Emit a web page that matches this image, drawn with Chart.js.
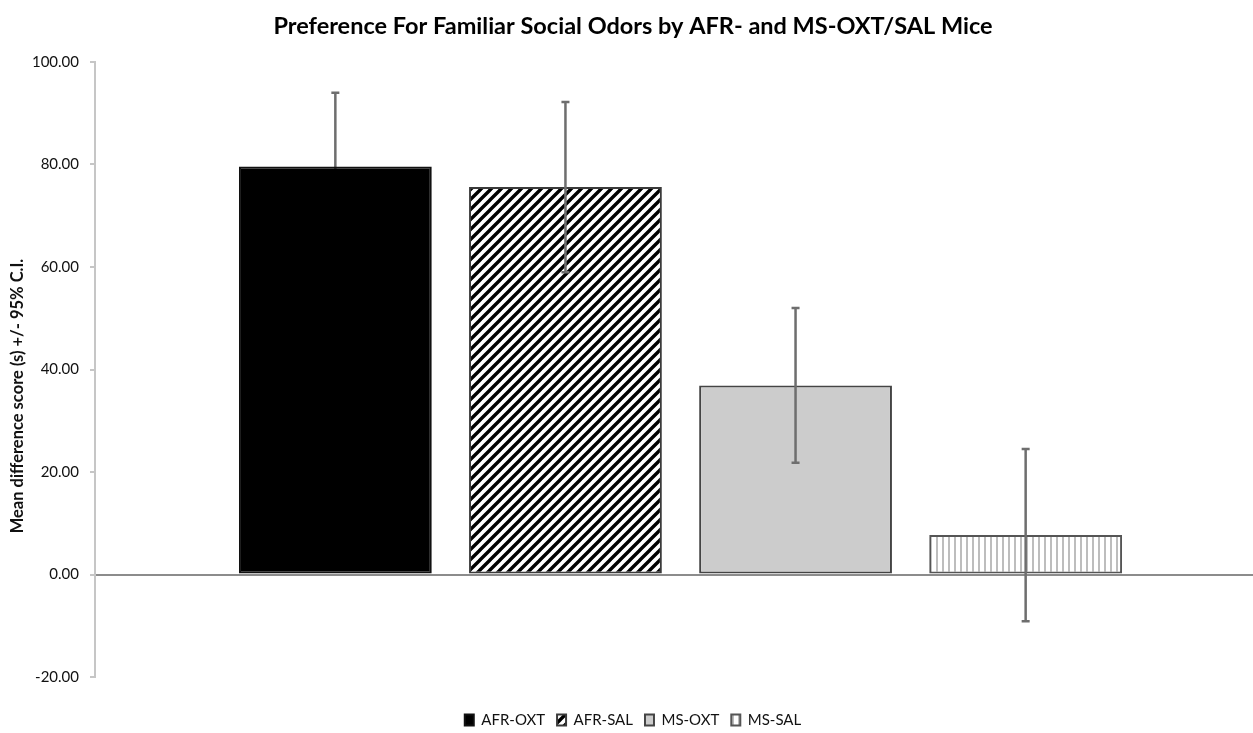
<!DOCTYPE html>
<html>
<head>
<meta charset="utf-8">
<title>Preference For Familiar Social Odors</title>
<script src="https://cdn.jsdelivr.net/npm/chart.js@4.4.1/dist/chart.umd.min.js"></script>
<style>
  html, body { margin: 0; padding: 0; background: #ffffff; overflow: hidden; }
  #wrap { width: 1253px; height: 733px; overflow: hidden; }
  canvas { display: block; }
</style>
</head>
<body>
<div id="wrap"><canvas id="chart" width="1266" height="733"></canvas></div>
<script>
// Mean difference scores (s) and 95% confidence half-widths per group
const categories = [''];
const groups = ['AFR-OXT', 'AFR-SAL', 'MS-OXT', 'MS-SAL'];
const means = [79.6, 75.6, 36.9, 7.7];
const ci95 = [14.4, 16.6, 15.1, 16.8];
const yTicks = [-20, 0, 20, 40, 60, 80, 100];

const FONT = 'Lato, "Noto Sans", sans-serif';

// Hatched fills
function diagonalHatch() {
  const s = 10;
  const c = document.createElement('canvas');
  c.width = s; c.height = s;
  const g = c.getContext('2d');
  g.fillStyle = '#ffffff';
  g.fillRect(0, 0, s, s);
  g.strokeStyle = '#000000';
  g.lineWidth = 3.4;
  g.beginPath();
  for (const k of [-s, 0, s]) {
    g.moveTo(k - 1, s + 1);
    g.lineTo(k + s + 1, -1);
  }
  g.stroke();
  return g.createPattern(c, 'repeat');
}

function verticalHatch() {
  const s = 6;
  const c = document.createElement('canvas');
  c.width = s; c.height = s;
  const g = c.getContext('2d');
  g.fillStyle = '#ffffff';
  g.fillRect(0, 0, s, s);
  g.fillStyle = '#bdbdbd';
  g.fillRect(0, 0, 2, s);
  return g.createPattern(c, 'repeat');
}

const ctx = document.getElementById('chart').getContext('2d');
const fills = ['#000000', diagonalHatch(), '#cccccc', verticalHatch()];
const borders = ['#111111', '#3a3a3a', '#444444', '#555555'];

// Error bars (mean +/- 95% C.I.); the solid black bar hides its own lower whisker
function drawErrorBars(chart, behind) {
  const c = chart.ctx;
  const y = chart.scales.y;
  chart.data.datasets.forEach((ds, i) => {
    if (!!ds.errorBarsBehind !== behind) return;
    const meta = chart.getDatasetMeta(i);
    if (meta.hidden) return;
    meta.data.forEach((bar, j) => {
      const m = ds.data[j];
      const e = ds.errorBars[j];
      const yTop = y.getPixelForValue(m + e);
      const yBot = y.getPixelForValue(m - e);
      const x = bar.x;
      c.save();
      c.strokeStyle = '#6e6e6e';
      c.lineWidth = 2.5;
      c.beginPath();
      c.moveTo(x, yTop);
      c.lineTo(x, yBot);
      c.moveTo(x - 4, yTop);
      c.lineTo(x + 4, yTop);
      c.moveTo(x - 4, yBot);
      c.lineTo(x + 4, yBot);
      c.stroke();
      c.restore();
    });
  });
}

const errorBarPlugin = {
  id: 'errorBars',
  beforeDatasetsDraw(chart) { drawErrorBars(chart, true); },
  afterDatasetsDraw(chart) { drawErrorBars(chart, false); }
};

// Rotated value-axis title
const axisTitlePlugin = {
  id: 'axisTitle',
  afterDraw(chart) {
    const c = chart.ctx;
    c.save();
    c.translate(18, 396);
    c.rotate(-Math.PI / 2);
    c.font = 'bold 16.5px ' + FONT;
    c.fillStyle = '#111111';
    c.textAlign = 'center';
    c.textBaseline = 'middle';
    c.fillText('Mean difference score (s) +/- 95% C.I.', 0, 0);
    c.restore();
  }
};

new Chart(ctx, {
  type: 'bar',
  data: {
    labels: categories,
    datasets: groups.map((g, i) => ({
      label: g,
      data: [means[i]],
      errorBars: [ci95[i]],
      errorBarsBehind: i === 0,
      backgroundColor: fills[i],
      borderColor: borders[i],
      borderWidth: 2,
      borderSkipped: false,
      categoryPercentage: 0.786,
      barPercentage: 0.838
    }))
  },
  options: {
    responsive: false,
    animation: false,
    layout: { padding: { left: 0, right: 0, top: 0, bottom: -4.5 } },
    plugins: {
      title: {
        display: true,
        text: 'Preference For Familiar Social Odors by AFR- and MS-OXT/SAL Mice',
        color: '#000000',
        font: { family: FONT, size: 23.5, weight: 'bold' },
        padding: { top: 12.5, bottom: 21.3 }
      },
      legend: {
        position: 'bottom',
        labels: {
          color: '#111111',
          font: { family: FONT, size: 15 },
          boxWidth: 9,
          boxHeight: 11,
          padding: 12
        }
      },
      tooltip: { enabled: false }
    },
    scales: {
      x: {
        display: true,
        grid: { display: false },
        border: { display: false },
        ticks: { display: false },
        afterFit(scale) { scale.height = 23.5; }
      },
      y: {
        min: -20,
        max: 100,
        afterBuildTicks(scale) { scale.ticks = yTicks.map(v => ({ value: v })); },
        afterFit(scale) { scale.width = 95; },
        ticks: {
          color: '#111111',
          font: { family: FONT, size: 15 },
          padding: 11,
          callback: v => Number(v).toFixed(2)
        },
        grid: {
          color: c => (c.tick && c.tick.value === 0) ? '#8c8c8c' : 'rgba(0,0,0,0)',
          lineWidth: 2,
          tickLength: 5,
          tickColor: '#c6c6c6',
          drawTicks: true
        },
        border: { color: '#c6c6c6', width: 2 }
      }
    }
  },
  plugins: [errorBarPlugin, axisTitlePlugin]
});
</script>
</body>
</html>
